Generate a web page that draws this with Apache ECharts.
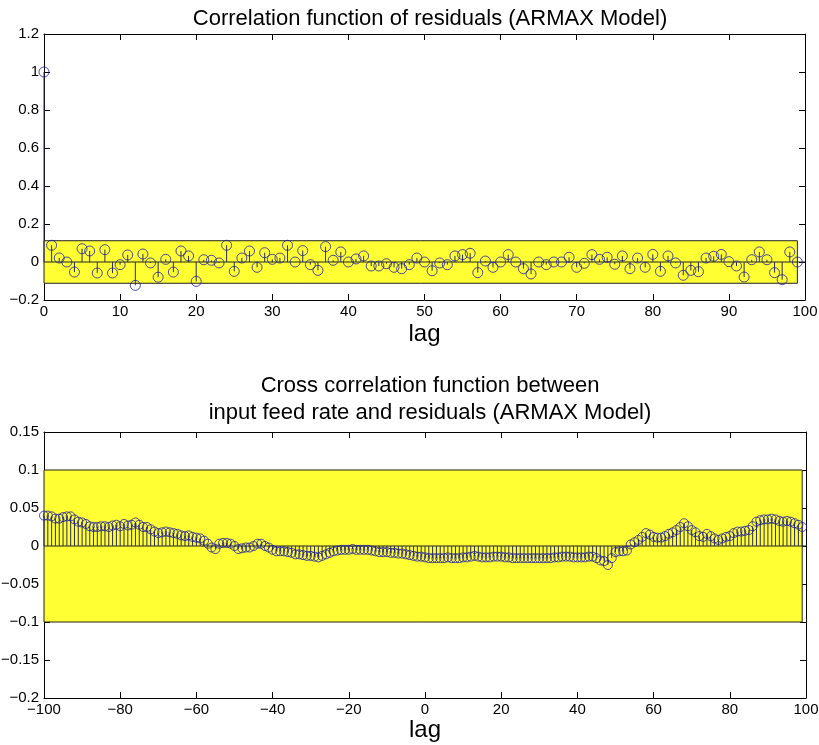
<!DOCTYPE html>
<html>
<head>
<meta charset="utf-8">
<script src="https://cdn.jsdelivr.net/npm/echarts@6/dist/echarts.min.js"></script>
<style>
  html, body { margin: 0; padding: 0; background: #fff; }
  #chart { width: 819px; height: 745px; }
</style>
</head>
<body>
<div id="chart"></div>
<script>
// Autocorrelation of the ARMAX residuals, lags 0..99
const acfLagStart = 0;
const acfValues = [
  1.000, 0.088, 0.021, 0.000, -0.053, 0.070, 0.058, -0.058, 0.065, -0.058,
  -0.014, 0.037, -0.123, 0.042, -0.005, -0.080, 0.014, -0.053, 0.058, 0.032,
  -0.102, 0.012, 0.009, -0.005, 0.088, -0.049, 0.021, 0.058, -0.028, 0.049,
  0.014, 0.021, 0.088, 0.000, 0.060, -0.014, -0.044, 0.081, 0.009, 0.053,
  0.000, 0.016, 0.032, -0.021, -0.021, -0.009, -0.028, -0.035, -0.014, 0.021,
  0.000, -0.046, -0.005, -0.014, 0.032, 0.039, 0.046, -0.056, 0.005, -0.028,
  0.000, 0.039, 0.000, -0.035, -0.063, 0.000, -0.014, 0.000, 0.000, 0.025,
  -0.028, -0.007, 0.039, 0.014, 0.025, -0.012, 0.032, -0.035, 0.021, -0.028,
  0.040, -0.049, 0.032, -0.005, -0.070, -0.044, -0.051, 0.021, 0.030, 0.040,
  0.002, -0.021, -0.079, 0.012, 0.053, 0.012, -0.056, -0.093, 0.053, 0.000
];

// Cross correlation between input feed rate and residuals, lags -100..99
const ccfLagStart = -100;
const ccfValues = [
  0.040, 0.040, 0.039, 0.036, 0.036, 0.038, 0.039, 0.039, 0.035, 0.032,
  0.031, 0.029, 0.026, 0.025, 0.025, 0.026, 0.026, 0.025, 0.027, 0.028,
  0.026, 0.029, 0.027, 0.028, 0.031, 0.028, 0.025, 0.025, 0.022, 0.019,
  0.017, 0.018, 0.019, 0.018, 0.017, 0.016, 0.014, 0.013, 0.014, 0.012,
  0.011, 0.010, 0.007, 0.003, -0.002, -0.004, 0.003, 0.004, 0.004, 0.003,
  0.000, -0.004, -0.003, -0.002, -0.002, 0.000, 0.003, 0.003, 0.000, -0.002,
  -0.005, -0.007, -0.007, -0.007, -0.008, -0.009, -0.011, -0.011, -0.012, -0.013,
  -0.013, -0.014, -0.015, -0.013, -0.011, -0.009, -0.007, -0.006, -0.005, -0.005,
  -0.005, -0.004, -0.005, -0.005, -0.005, -0.005, -0.006, -0.007, -0.008, -0.008,
  -0.008, -0.009, -0.009, -0.010, -0.010, -0.011, -0.012, -0.013, -0.014, -0.014,
  -0.015, -0.016, -0.016, -0.016, -0.016, -0.016, -0.015, -0.016, -0.016, -0.016,
  -0.015, -0.015, -0.014, -0.013, -0.014, -0.015, -0.015, -0.015, -0.014, -0.014,
  -0.014, -0.015, -0.015, -0.016, -0.016, -0.016, -0.016, -0.016, -0.016, -0.016,
  -0.016, -0.016, -0.016, -0.016, -0.015, -0.015, -0.014, -0.014, -0.014, -0.015,
  -0.015, -0.015, -0.015, -0.014, -0.014, -0.016, -0.019, -0.020, -0.025, -0.016,
  -0.008, -0.007, -0.007, -0.006, 0.002, 0.005, 0.008, 0.012, 0.017, 0.015,
  0.012, 0.011, 0.011, 0.013, 0.016, 0.018, 0.021, 0.025, 0.030, 0.026,
  0.021, 0.018, 0.013, 0.012, 0.016, 0.013, 0.010, 0.008, 0.010, 0.012,
  0.013, 0.017, 0.019, 0.019, 0.020, 0.021, 0.026, 0.032, 0.034, 0.035,
  0.035, 0.036, 0.035, 0.033, 0.032, 0.033, 0.032, 0.030, 0.028, 0.025
];

// Confidence bands: [lagFrom, lagTo, lower, upper]
const acfBand = [0, 99, -0.112, 0.112];
const ccfBand = [-100, 99, -0.1, 0.1];

// Axis ranges and tick steps
const acfXAxis = [0, 100, 10];
const acfYAxis = [-0.2, 1.2, 0.2];
const ccfXAxis = [-100, 100, 20];
const ccfYAxis = [-0.2, 0.15, 0.05];

const titles = [
  'Correlation function of residuals (ARMAX Model)',
  'Cross correlation function between\ninput feed rate and residuals (ARMAX Model)'
];
const xName = 'lag';

const FONT = '"Liberation Sans", Arial, Helvetica, sans-serif';
const YELLOW = '#ffff33';
const MARK = '#1e1ea4';
const STEM = '#2c2c5e';

function pairs(start, vals) {
  return vals.map((v, i) => [start + i, v]);
}

function fmt(v) {
  const s = String(parseFloat(Number(v).toFixed(4)));
  return s === '-0' ? '0' : s.replace('-', '\u2212');
}

function xAxes(range, gridIndex, gap) {
  const common = {
    type: 'value', gridIndex: gridIndex,
    min: range[0], max: range[1], interval: range[2],
    axisLine: { show: true, onZero: false, lineStyle: { color: '#000', width: 1 } },
    axisTick: { show: true, inside: true, length: 6, lineStyle: { color: '#000' } },
    splitLine: { show: false }
  };
  return [
    Object.assign({}, common, {
      position: 'bottom',
      axisLabel: { show: true, color: '#000', fontFamily: FONT, fontSize: 15, margin: 4, formatter: fmt },
      name: xName, nameLocation: 'middle', nameGap: gap,
      nameTextStyle: { color: '#000', fontFamily: FONT, fontSize: 24 }
    }),
    Object.assign({}, common, { position: 'top', axisLabel: { show: false } })
  ];
}

function yAxes(range, gridIndex) {
  const common = {
    type: 'value', gridIndex: gridIndex,
    min: range[0], max: range[1], interval: range[2],
    axisLine: { show: true, onZero: false, lineStyle: { color: '#000', width: 1 } },
    axisTick: { show: true, inside: true, length: 6, lineStyle: { color: '#000' } },
    splitLine: { show: false }
  };
  return [
    Object.assign({}, common, {
      position: 'left',
      axisLabel: { show: true, color: '#000', fontFamily: FONT, fontSize: 15, margin: 5, formatter: fmt }
    }),
    Object.assign({}, common, { position: 'right', axisLabel: { show: false } })
  ];
}

function bandSeries(band, xi, yi) {
  return {
    type: 'custom', xAxisIndex: xi, yAxisIndex: yi, z: 1, silent: true,
    data: [band],
    renderItem: function (params, api) {
      const p0 = api.coord([api.value(0), api.value(3)]);
      const p1 = api.coord([api.value(1), api.value(2)]);
      return {
        type: 'rect',
        shape: { x: p0[0], y: p0[1], width: p1[0] - p0[0], height: p1[1] - p0[1] },
        style: { fill: YELLOW, stroke: '#222', lineWidth: 1 }
      };
    }
  };
}

function baselineSeries(range, xi, yi) {
  return {
    type: 'custom', xAxisIndex: xi, yAxisIndex: yi, z: 2, silent: true,
    data: [[range[0], range[1]]],
    renderItem: function (params, api) {
      const p0 = api.coord([api.value(0), 0]);
      const p1 = api.coord([api.value(1), 0]);
      return {
        type: 'line',
        shape: { x1: p0[0], y1: p0[1], x2: p1[0], y2: p1[1] },
        style: { stroke: '#222', lineWidth: 1 }
      };
    }
  };
}

function stemSeries(points, xi, yi) {
  return {
    type: 'custom', xAxisIndex: xi, yAxisIndex: yi, z: 3, silent: true,
    data: points,
    renderItem: function (params, api) {
      const p0 = api.coord([api.value(0), 0]);
      const p1 = api.coord([api.value(0), api.value(1)]);
      return {
        type: 'line',
        shape: { x1: p0[0], y1: p0[1], x2: p1[0], y2: p1[1] },
        style: { stroke: STEM, lineWidth: 1 }
      };
    }
  };
}

function markerSeries(points, xi, yi, size) {
  return {
    type: 'scatter', xAxisIndex: xi, yAxisIndex: yi, z: 4, silent: true,
    data: points, symbol: 'circle', symbolSize: size,
    itemStyle: { color: 'rgba(0,0,0,0)', borderColor: MARK, borderWidth: 1 }
  };
}

const acfPts = pairs(acfLagStart, acfValues);
const ccfPts = pairs(ccfLagStart, ccfValues);

const chart = echarts.init(document.getElementById('chart'), null, { renderer: 'canvas' });
chart.setOption({
  backgroundColor: '#fff',
  animation: false,
  title: [
    {
      text: titles[0], left: 425, top: 3, textAlign: 'center',
      textStyle: { color: '#000', fontFamily: FONT, fontSize: 22, fontWeight: 'normal' }
    },
    {
      text: titles[1], left: 425, top: 367, textAlign: 'center',
      textStyle: { color: '#000', fontFamily: FONT, fontSize: 22, fontWeight: 'normal', lineHeight: 27 }
    }
  ],
  grid: [
    { left: 44, top: 34, width: 761, height: 266, show: false, containLabel: false, outerBoundsMode: 'none' },
    { left: 44, top: 432, width: 762, height: 266, show: false, containLabel: false, outerBoundsMode: 'none' }
  ],
  xAxis: xAxes(acfXAxis, 0, 22).concat(xAxes(ccfXAxis, 1, 17)),
  yAxis: yAxes(acfYAxis, 0).concat(yAxes(ccfYAxis, 1)),
  series: [
    bandSeries(acfBand, 0, 0),
    baselineSeries(acfXAxis, 0, 0),
    stemSeries(acfPts, 0, 0),
    markerSeries(acfPts, 0, 0, 10),
    bandSeries(ccfBand, 2, 2),
    baselineSeries(ccfXAxis, 2, 2),
    stemSeries(ccfPts, 2, 2),
    markerSeries(ccfPts, 2, 2, 9)
  ]
});
</script>
</body>
</html>
